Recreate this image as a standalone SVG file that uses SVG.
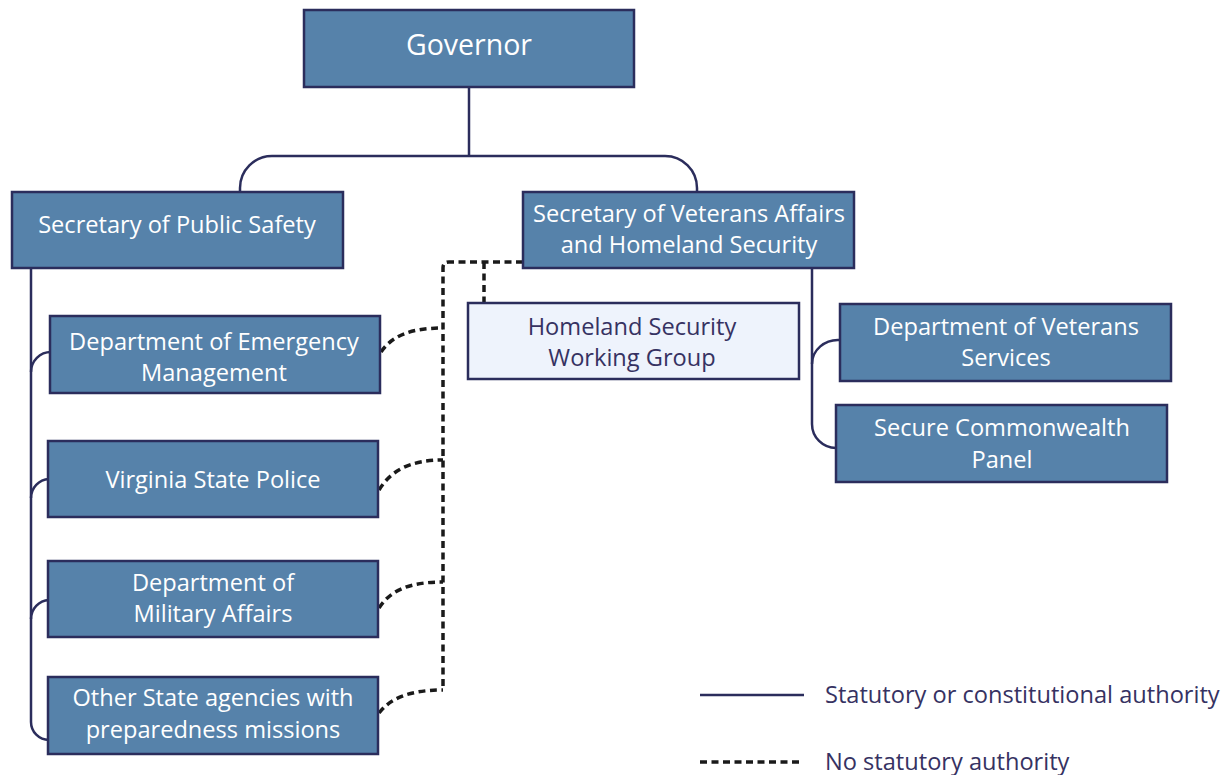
<svg xmlns="http://www.w3.org/2000/svg" width="1230" height="775" viewBox="0 0 1230 775">
<style>
.box{fill:#5682aa;stroke:#2b2d5c;stroke-width:2.5}
.lbox{fill:#eef3fc;stroke:#2b2d5c;stroke-width:2.5}
.t{font-family:"Open Sans",Lato,sans-serif;font-size:23.6px;fill:#ffffff;text-anchor:middle}
.td{font-family:"Open Sans",Lato,sans-serif;font-size:23.6px;fill:#363262;text-anchor:middle}
.lg{font-family:"Open Sans",Lato,sans-serif;font-size:23.6px;fill:#363262}
.solid{fill:none;stroke:#2b2d5c;stroke-width:2.5}
.dash{fill:none;stroke:#1a1a1a;stroke-width:3.5;stroke-dasharray:7 4.5}
</style>
<rect width="1230" height="775" fill="#ffffff"/>
<g id="connectors">
<path class="solid" d="M469,87 V156"/>
<path class="solid" d="M240,192 V188 A32,32 0 0 1 272,156 H665 A32,32 0 0 1 697,188 V192"/>
<path class="solid" d="M31,268 V722 A18,18 0 0 0 49,740"/>
<path class="solid" d="M31,372 A20,20 0 0 1 51,352"/>
<path class="solid" d="M31,498 A19,19 0 0 1 49,479"/>
<path class="solid" d="M31,619 A19,19 0 0 1 49,600"/>
<path class="solid" d="M812,268 V424 A24,24 0 0 0 836,448"/>
<path class="solid" d="M812,364 A26,24 0 0 1 840,340"/>
<path class="dash" d="M523,262 H449 Q443,262 443,268 V690"/>
<path class="dash" d="M484,262 V303"/>
<path class="dash" d="M381,352 C392,336 410,328 443,328"/>
<path class="dash" d="M379,490 C390,472 408,460 443,460"/>
<path class="dash" d="M379,608 C390,591 408,582 443,582"/>
<path class="dash" d="M379,713 C390,699 408,690 443,690"/>
</g>
<g id="governor"><rect class="box" x="304" y="10" width="330" height="77"/><text class="t" x="469" y="55" style="font-size:28.5px">Governor</text></g>
<g id="sps"><rect class="box" x="12" y="192" width="331" height="76"/><text class="t" x="177" y="233">Secretary of Public Safety</text></g>
<g id="svahs"><rect class="box" x="523" y="192" width="331" height="76"/><text class="t" x="689" y="222">Secretary of Veterans Affairs</text><text class="t" x="689" y="253">and Homeland Security</text></g>
<g id="hswg"><rect class="lbox" x="468" y="303" width="331" height="76"/><text class="td" x="632" y="335">Homeland Security</text><text class="td" x="632" y="366">Working Group</text></g>
<g id="dem"><rect class="box" x="50" y="316" width="330" height="77"/><text class="t" x="214" y="350">Department of Emergency</text><text class="t" x="214" y="381">Management</text></g>
<g id="vsp"><rect class="box" x="48" y="441" width="330" height="76"/><text class="t" x="213" y="488">Virginia State Police</text></g>
<g id="dma"><rect class="box" x="48" y="561" width="330" height="76"/><text class="t" x="213" y="591">Department of</text><text class="t" x="213" y="622">Military Affairs</text></g>
<g id="other"><rect class="box" x="48" y="677" width="330" height="77"/><text class="t" x="213" y="706">Other State agencies with</text><text class="t" x="213" y="738">preparedness missions</text></g>
<g id="dvs"><rect class="box" x="840" y="304" width="331" height="77"/><text class="t" x="1006" y="335">Department of Veterans</text><text class="t" x="1006" y="366">Services</text></g>
<g id="scp"><rect class="box" x="836" y="405" width="331" height="77"/><text class="t" x="1002" y="436">Secure Commonwealth</text><text class="t" x="1002" y="468">Panel</text></g>
<g id="legend">
<line class="solid" x1="700" y1="695" x2="804" y2="695"/>
<text class="lg" x="825" y="703">Statutory or constitutional authority</text>
<line class="dash" x1="700" y1="762" x2="800" y2="762"/>
<text class="lg" x="825" y="770">No statutory authority</text>
</g>
</svg>
